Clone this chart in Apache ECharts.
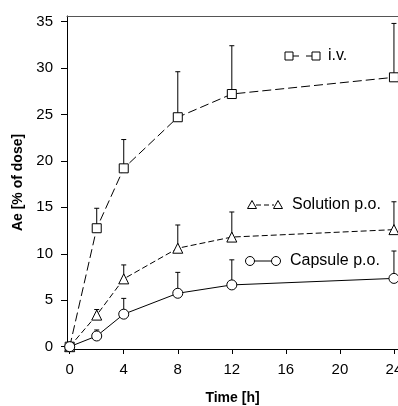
<!DOCTYPE html>
<html>
<head>
<meta charset="utf-8">
<script src="https://cdn.jsdelivr.net/npm/echarts@6/dist/echarts.min.js"></script>
<style>
  html, body { margin: 0; padding: 0; background: #fff; }
  #chart { width: 398px; height: 406px; }
</style>
</head>
<body>
<div id="chart"></div>
<script>
// Cumulative urinary excretion (Ae, % of dose) over time, mean + upper SD
const hours = [0, 2, 4, 8, 12, 24];

const ivMean  = [0, 12.75, 19.2, 24.7, 27.2, 29.0];
const ivUpper = [0, 14.9, 22.3, 29.6, 32.4, 34.8];

const solMean  = [0, 3.4, 7.3, 10.6, 11.8, 12.6];
const solUpper = [0, 4.0, 8.8, 13.1, 14.5, 15.6];

const capMean  = [0, 1.15, 3.5, 5.75, 6.65, 7.35];
const capUpper = [0, 1.8, 5.2, 8.0, 9.35, 10.3];

const xTicks = [0, 4, 8, 12, 16, 20, 24];
const yTicks = [0, 5, 10, 15, 20, 25, 30, 35];

const seriesNames = ['i.v.', 'Solution p.o.', 'Capsule p.o.'];

const FONT = 'Liberation Sans, Arial, Helvetica, sans-serif';

const chart = echarts.init(document.getElementById('chart'), null, { renderer: 'canvas' });

function errorBars(mean, upper) {
  return {
    type: 'custom',
    silent: true,
    z: 1,
    clip: false,
    data: hours.map((h, i) => [h, mean[i], upper[i]]),
    encode: { x: 0, y: 1 },
    renderItem(params, api) {
      const x = api.value(0), m = api.value(1), u = api.value(2);
      if (!(u > m)) return null;
      const p0 = api.coord([x, m]);
      const p1 = api.coord([x, u]);
      const st = { stroke: '#000', lineWidth: 1 };
      return {
        type: 'group',
        children: [
          { type: 'line', shape: { x1: p0[0], y1: p0[1], x2: p1[0], y2: p1[1] }, style: st },
          { type: 'line', shape: { x1: p1[0] - 2.5, y1: p1[1], x2: p1[0] + 2.5, y2: p1[1] }, style: st }
        ]
      };
    }
  };
}

function meanLine(name, mean, symbol, size, dash) {
  return {
    type: 'line',
    name,
    z: 3,
    data: hours.map((h, i) => [h, mean[i]]),
    symbol,
    symbolSize: size,
    showAllSymbol: true,
    lineStyle: { color: '#000', width: 1, type: dash },
    itemStyle: { color: '#fff', borderColor: '#000', borderWidth: 1 },
    emphasis: { disabled: true }
  };
}

// Legend keys: symbol - line - symbol, then the label
function legendKey(symbolType, cx1, cx2, cy, dash, label, tx) {
  const shape = (cx) => {
    if (symbolType === 'rect') {
      return { type: 'rect', shape: { x: cx - 4, y: cy - 4, width: 8, height: 8 },
               style: { fill: '#fff', stroke: '#000', lineWidth: 1 } };
    }
    if (symbolType === 'triangle') {
      return { type: 'polygon', shape: { points: [[cx, cy - 4.5], [cx + 4.5, cy + 3.5], [cx - 4.5, cy + 3.5]] },
               style: { fill: '#fff', stroke: '#000', lineWidth: 1 } };
    }
    return { type: 'circle', shape: { cx, cy, r: 4.5 },
             style: { fill: '#fff', stroke: '#000', lineWidth: 1 } };
  };
  return [
    { type: 'line', shape: { x1: cx1 + 4, y1: cy, x2: cx2 - 4, y2: cy },
      style: { stroke: '#000', lineWidth: 1, lineDash: dash } },
    shape(cx1),
    shape(cx2),
    { type: 'text', style: { text: label, x: tx, y: cy, font: '16px ' + FONT, fill: '#000',
      verticalAlign: 'middle', textAlign: 'left' } }
  ];
}

const option = {
  animation: false,
  backgroundColor: '#fff',
  grid: { left: 67, right: 0, top: 16, bottom: 57, containLabel: false, outerBoundsMode: 'none' },
  xAxis: [
    {
      type: 'value',
      min: -0.2,
      max: 24.3,
      name: 'Time [h]',
      nameLocation: 'middle',
      nameGap: 42,
      nameTextStyle: { color: '#000', fontFamily: FONT, fontSize: 14, fontWeight: 'bold' },
      axisLine: { show: true, onZero: false, lineStyle: { color: '#000', width: 1 } },
      axisTick: { show: true, inside: false, length: 5, customValues: xTicks, lineStyle: { color: '#000' } },
      axisLabel: { customValues: xTicks, color: '#000', fontFamily: FONT, fontSize: 15, margin: 13 },
      splitLine: { show: false }
    },
    {
      type: 'value',
      position: 'top',
      min: -0.2,
      max: 24.3,
      axisLine: { show: true, onZero: false, lineStyle: { color: '#555', width: 1 } },
      axisTick: { show: false },
      axisLabel: { show: false },
      splitLine: { show: false }
    }
  ],
  yAxis: {
    type: 'value',
    min: -0.25,
    max: 35.6,
    name: 'Ae [% of dose]',
    nameLocation: 'middle',
    nameGap: 41,
    nameTextStyle: { color: '#000', fontFamily: FONT, fontSize: 14, fontWeight: 'bold' },
    axisLine: { show: true, onZero: false, lineStyle: { color: '#000', width: 1 } },
    axisTick: { show: true, inside: false, length: 6, customValues: yTicks, lineStyle: { color: '#000' } },
    axisLabel: { customValues: yTicks, color: '#000', fontFamily: FONT, fontSize: 15, margin: 14 },
    splitLine: { show: false }
  },
  series: [
    errorBars(ivMean, ivUpper),
    errorBars(solMean, solUpper),
    errorBars(capMean, capUpper),
    meanLine(seriesNames[0], ivMean, 'rect', 9, [9, 4]),
    meanLine(seriesNames[1], solMean, 'triangle', 10, [6, 3]),
    meanLine(seriesNames[2], capMean, 'circle', 10, 'solid')
  ],
  graphic: [
    ...legendKey('rect', 289, 316, 56, [6, 7], seriesNames[0], 328),
    ...legendKey('triangle', 252, 278, 205, [5, 3], seriesNames[1], 292),
    ...legendKey('circle', 250, 276, 261, null, seriesNames[2], 290)
  ]
};

chart.setOption(option);
</script>
</body>
</html>
